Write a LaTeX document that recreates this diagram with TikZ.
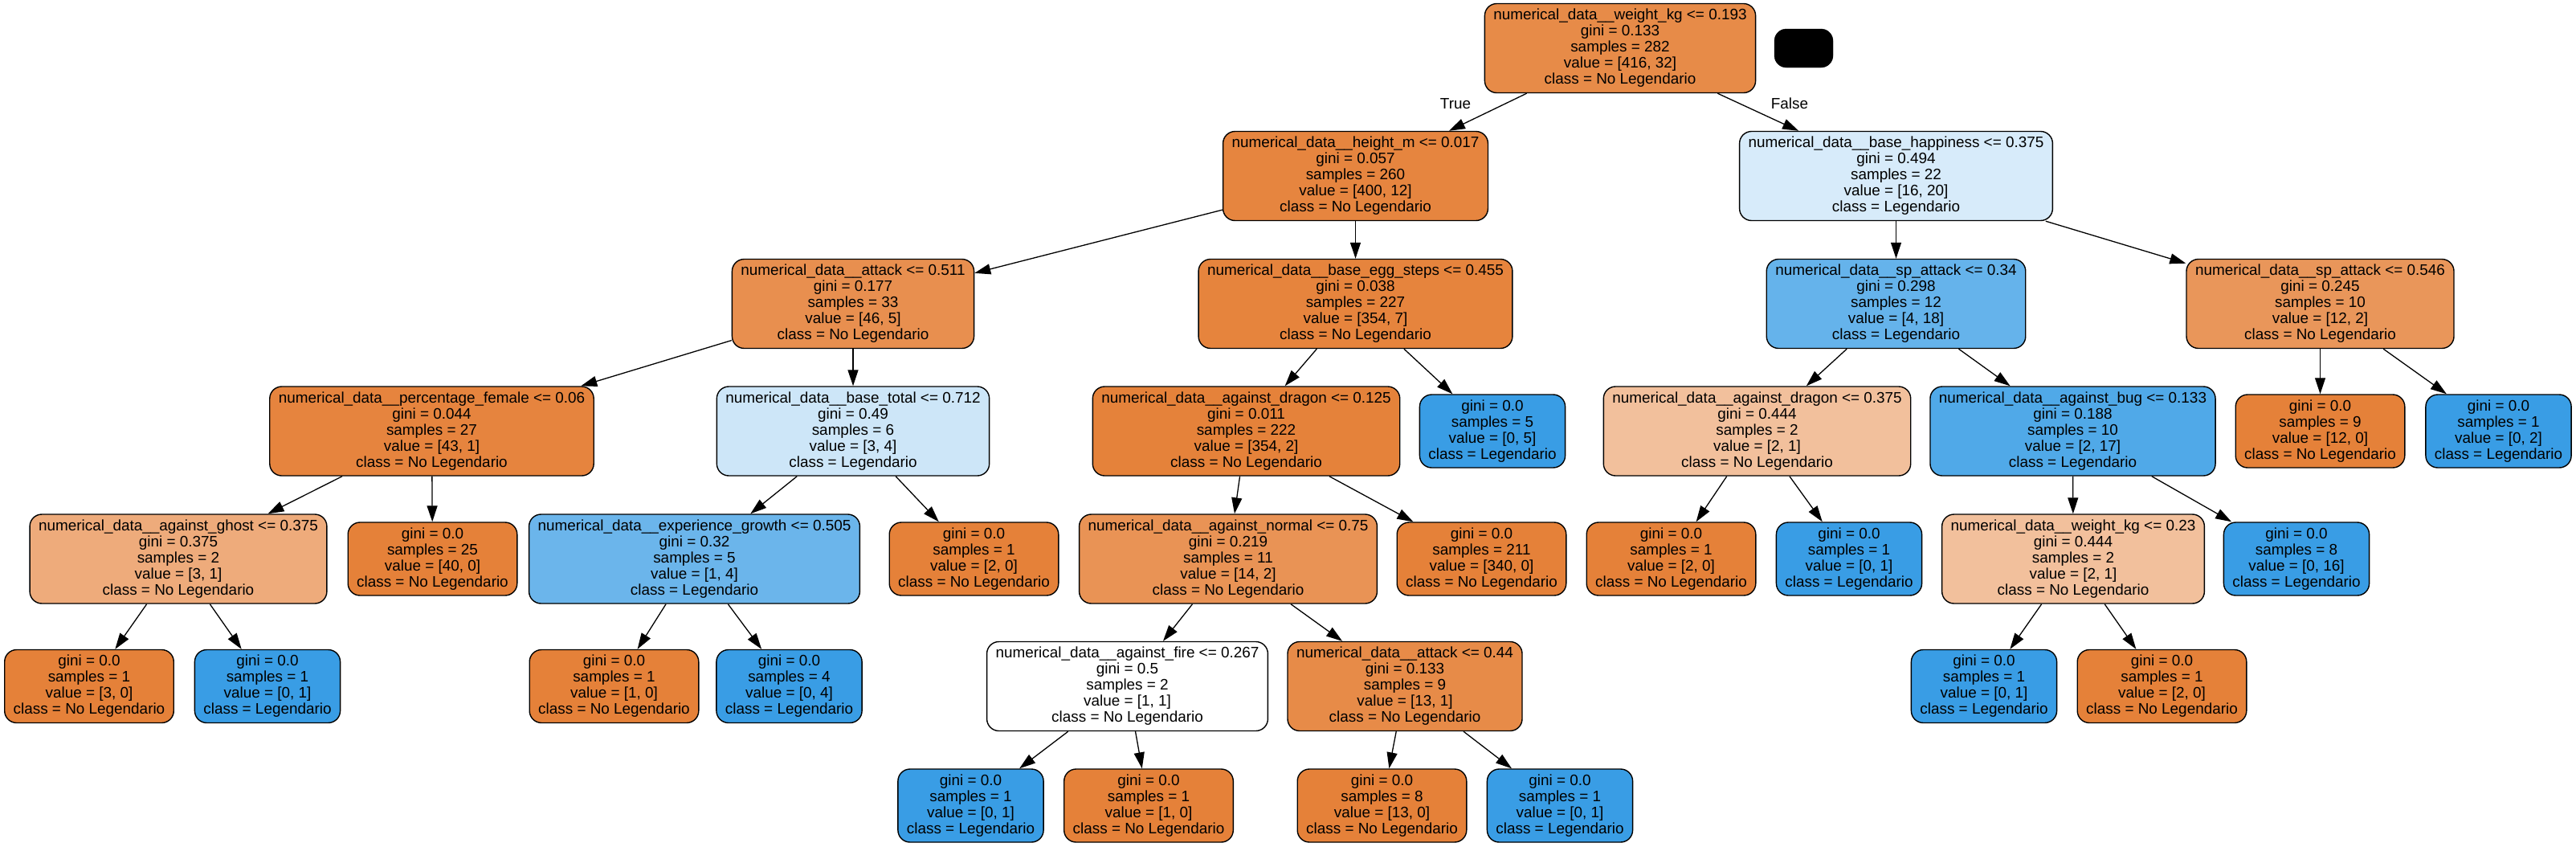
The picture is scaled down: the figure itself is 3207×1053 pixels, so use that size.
\documentclass[tikz,border=0pt]{standalone}
\usepackage{fontspec}
\setmainfont{Liberation Sans}
\usetikzlibrary{arrows.meta}
\definecolor{cO}{RGB}{229,129,57}
\definecolor{cB}{RGB}{57,157,229}
\newcommand{\splitTxt}[5]{numerical\_data\_\_#1\\gini = #2\\samples = #3\\value = [#4]\\class = #5}
\newcommand{\leafTxt}[3]{gini = 0.0\\samples = #1\\value = [#2]\\class = #3}
\begin{document}
\begin{tikzpicture}[x=1pt,y=-1pt,
  box/.style={draw=black,line width=1.4pt,rounded corners=15pt,align=center,
    font=\fontsize{18.9}{20}\selectfont,inner xsep=11pt,inner ysep=3pt},
  inode/.style={box,minimum height=111pt},
  leaf/.style={box,minimum height=91pt},
  edge/.style={line width=1.3pt,-{Triangle[length=20pt,width=13pt]}},
  lbl/.style={font=\fontsize{18.9}{20}\selectfont,inner sep=0pt}]
\useasboundingbox (0,0) rectangle (3207,1053);
% level 0
\node[inode,fill=cO!92.3!white] (n0) at (2017,60) {\splitTxt{weight\_kg <= 0.193}{0.133}{282}{416, 32}{No Legendario}};
\node[draw=black,fill=black,rounded corners=15pt,minimum width=73pt,minimum height=48pt,inner sep=0pt] (lg) at (2245.5,60) {};
% level 1
\node[inode,fill=cO!97!white] (n1) at (1687.5,219) {\splitTxt{height\_m <= 0.017}{0.057}{260}{400, 12}{No Legendario}};
\node[inode,fill=cB!20!white] (n2) at (2360.5,219) {\splitTxt{base\_happiness <= 0.375}{0.494}{22}{16, 20}{Legendario}};
% level 2
\node[inode,fill=cO!89.1!white] (n3) at (1062,378) {\splitTxt{attack <= 0.511}{0.177}{33}{46, 5}{No Legendario}};
\node[inode,fill=cO!98!white] (n4) at (1687.5,378) {\splitTxt{base\_egg\_steps <= 0.455}{0.038}{227}{354, 7}{No Legendario}};
\node[inode,fill=cB!77.8!white] (n5) at (2360.5,378) {\splitTxt{sp\_attack <= 0.34}{0.298}{12}{4, 18}{Legendario}};
\node[inode,fill=cO!83.3!white] (n6) at (2888.5,378) {\splitTxt{sp\_attack <= 0.546}{0.245}{10}{12, 2}{No Legendario}};
% level 3
\node[inode,fill=cO!97.7!white] (n7) at (537.5,536.5) {\splitTxt{percentage\_female <= 0.06}{0.044}{27}{43, 1}{No Legendario}};
\node[inode,fill=cB!25!white] (n8) at (1062,536.5) {\splitTxt{base\_total <= 0.712}{0.49}{6}{3, 4}{Legendario}};
\node[inode,fill=cO!99.4!white] (n9) at (1551.5,536.5) {\splitTxt{against\_dragon <= 0.125}{0.011}{222}{354, 2}{No Legendario}};
\node[leaf,fill=cB] (n10) at (1858,536.5) {\leafTxt{5}{0, 5}{Legendario}};
\node[inode,fill=cO!50!white] (n11) at (2187.5,536.5) {\splitTxt{against\_dragon <= 0.375}{0.444}{2}{2, 1}{No Legendario}};
\node[inode,fill=cB!88.2!white] (n12) at (2580.5,536.5) {\splitTxt{against\_bug <= 0.133}{0.188}{10}{2, 17}{Legendario}};
\node[leaf,fill=cO] (n13) at (2888.5,536.5) {\leafTxt{9}{12, 0}{No Legendario}};
\node[leaf,fill=cB] (n14) at (3110.5,536.5) {\leafTxt{1}{0, 2}{Legendario}};
% level 4
\node[inode,fill=cO!66.7!white] (n15) at (222,695.5) {\splitTxt{against\_ghost <= 0.375}{0.375}{2}{3, 1}{No Legendario}};
\node[leaf,fill=cO] (n16) at (538.5,695.5) {\leafTxt{25}{40, 0}{No Legendario}};
\node[inode,fill=cB!75!white] (n17) at (864.5,695.5) {\splitTxt{experience\_growth <= 0.505}{0.32}{5}{1, 4}{Legendario}};
\node[leaf,fill=cO] (n18) at (1212.5,695.5) {\leafTxt{1}{2, 0}{No Legendario}};
\node[inode,fill=cO!85.7!white] (n19) at (1529,695.5) {\splitTxt{against\_normal <= 0.75}{0.219}{11}{14, 2}{No Legendario}};
\node[leaf,fill=cO] (n20) at (1844.5,695.5) {\leafTxt{211}{340, 0}{No Legendario}};
\node[leaf,fill=cO] (n21) at (2080.5,695.5) {\leafTxt{1}{2, 0}{No Legendario}};
\node[leaf,fill=cB] (n22) at (2302,695.5) {\leafTxt{1}{0, 1}{Legendario}};
\node[inode,fill=cO!50!white] (n23) at (2581,695.5) {\splitTxt{weight\_kg <= 0.23}{0.444}{2}{2, 1}{No Legendario}};
\node[leaf,fill=cB] (n24) at (2859,695.5) {\leafTxt{8}{0, 16}{Legendario}};
% level 5
\node[leaf,fill=cO] (n25) at (111,854) {\leafTxt{1}{3, 0}{No Legendario}};
\node[leaf,fill=cB] (n26) at (333,854) {\leafTxt{1}{0, 1}{Legendario}};
\node[leaf,fill=cO] (n27) at (764.5,854) {\leafTxt{1}{1, 0}{No Legendario}};
\node[leaf,fill=cB] (n28) at (982.5,854) {\leafTxt{4}{0, 4}{Legendario}};
\node[inode,fill=white] (n29) at (1403.5,854) {\splitTxt{against\_fire <= 0.267}{0.5}{2}{1, 1}{No Legendario}};
\node[inode,fill=cO!92.3!white] (n30) at (1749,854) {\splitTxt{attack <= 0.44}{0.133}{9}{13, 1}{No Legendario}};
\node[leaf,fill=cB] (n31) at (2470,854) {\leafTxt{1}{0, 1}{Legendario}};
\node[leaf,fill=cO] (n32) at (2691.5,854) {\leafTxt{1}{2, 0}{No Legendario}};
% level 6
\node[leaf,fill=cB] (n33) at (1208.5,1002.5) {\leafTxt{1}{0, 1}{Legendario}};
\node[leaf,fill=cO] (n34) at (1430,1002.5) {\leafTxt{1}{1, 0}{No Legendario}};
\node[leaf,fill=cO] (n35) at (1720.5,1002.5) {\leafTxt{8}{13, 0}{No Legendario}};
\node[leaf,fill=cB] (n36) at (1942,1002.5) {\leafTxt{1}{0, 1}{Legendario}};
% edges
\foreach \a/\b in {n0/n1,n0/n2,n1/n3,n1/n4,n2/n5,n2/n6,n3/n7,n3/n8,n4/n9,n4/n10,
  n5/n11,n5/n12,n6/n13,n6/n14,n7/n15,n7/n16,n8/n17,n8/n18,n9/n19,n9/n20,
  n11/n21,n11/n22,n12/n23,n12/n24,n15/n25,n15/n26,n17/n27,n17/n28,
  n19/n29,n19/n30,n23/n31,n23/n32,n29/n33,n29/n34,n30/n35,n30/n36}
  \draw[edge] (\a) -- (\b);
% labels
\node[lbl] (tl) at (1812,129) {True};
\node[lbl] (fl) at (2228,129) {False};
\end{tikzpicture}
\end{document}
